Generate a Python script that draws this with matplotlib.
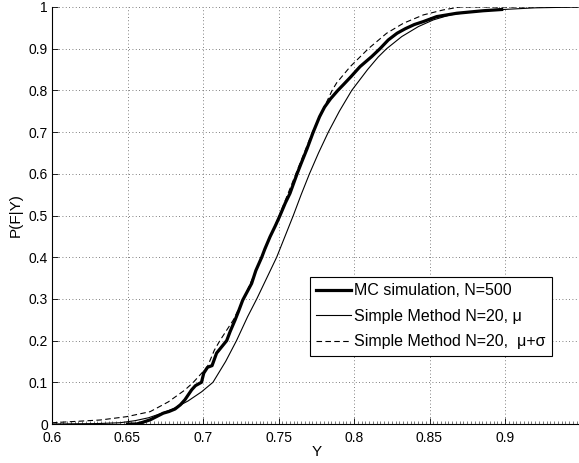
import matplotlib
matplotlib.use("Agg")
import matplotlib.pyplot as plt
from matplotlib.ticker import MultipleLocator

plt.rcParams["font.family"] = ["Liberation Sans", "DejaVu Sans"]

mc_y_val = [0.650, 0.656, 0.660, 0.665, 0.6737, 0.6775, 0.6815, 0.685, 0.688, 0.6925,
            0.695, 0.699, 0.7005, 0.703, 0.706, 0.709, 0.7157, 0.718, 0.7212, 0.7235,
            0.7263, 0.7285, 0.7322, 0.735, 0.7389, 0.741, 0.7444, 0.748, 0.751, 0.7545,
            0.7576, 0.7623, 0.765, 0.7689, 0.7730, 0.7772, 0.7805, 0.7845, 0.7893, 0.7933,
            0.7980, 0.804, 0.8117, 0.8172, 0.8227, 0.8285, 0.834, 0.840, 0.8459, 0.8548,
            0.868, 0.8855, 0.8978]
mc_p = [0.0, 0.0, 0.004, 0.010, 0.026, 0.030, 0.036, 0.046, 0.058, 0.082,
        0.092, 0.100, 0.122, 0.136, 0.140, 0.170, 0.200, 0.222, 0.249, 0.270,
        0.297, 0.312, 0.337, 0.368, 0.400, 0.420, 0.449, 0.476, 0.500, 0.530,
        0.553, 0.600, 0.625, 0.660, 0.700, 0.737, 0.760, 0.780, 0.800, 0.815,
        0.833, 0.857, 0.881, 0.900, 0.921, 0.937, 0.948, 0.958, 0.965, 0.977,
        0.985, 0.991, 0.994]

# Simple Method N=20, mu
mu_y_val = [0.600, 0.630, 0.645, 0.655, 0.664, 0.672, 0.680, 0.690, 0.699, 0.7066,
            0.715, 0.7222, 0.7295, 0.7356, 0.7488, 0.7598, 0.765, 0.7705, 0.7765, 0.783,
            0.7903, 0.7985, 0.809, 0.816, 0.8216, 0.8316, 0.8426, 0.8525, 0.8636, 0.879,
            0.8987, 0.920, 0.950]
mu_p = [0.0, 0.001, 0.003, 0.008, 0.015, 0.025, 0.036, 0.055, 0.077, 0.100,
        0.150, 0.200, 0.257, 0.300, 0.400, 0.500, 0.550, 0.600, 0.650, 0.700,
        0.750, 0.800, 0.850, 0.880, 0.900, 0.929, 0.953, 0.969, 0.981, 0.989,
        0.994, 0.998, 1.000]

# Simple Method N=20, mu+sigma
ms_y_val = [0.600, 0.632, 0.6495, 0.665, 0.677, 0.688, 0.6936, 0.7029, 0.7075, 0.7112,
            0.720, 0.7265, 0.739, 0.7505, 0.7615, 0.7725, 0.7855, 0.7885, 0.7975, 0.8095,
            0.8216, 0.8327, 0.8459, 0.8591, 0.870, 0.950]
ms_p = [0.003, 0.0096, 0.0176, 0.0296, 0.053, 0.0815, 0.100, 0.137, 0.177, 0.200,
        0.249, 0.297, 0.400, 0.500, 0.600, 0.700, 0.800, 0.818, 0.857, 0.900,
        0.937, 0.961, 0.981, 0.993, 1.000, 1.000]

x_ticks = [0.6, 0.65, 0.7, 0.75, 0.8, 0.85, 0.9]
x_tick_labels = ["0.6", "0.65", "0.7", "0.75", "0.8", "0.85", "0.9"]
y_ticks = [0, 0.1, 0.2, 0.3, 0.4, 0.5, 0.6, 0.7, 0.8, 0.9, 1]
y_tick_labels = ["0", "0.1", "0.2", "0.3", "0.4", "0.5", "0.6", "0.7", "0.8", "0.9", "1"]

fig = plt.figure(figsize=(5.79, 4.63), dpi=100)
ax = fig.add_axes([52 / 579, 39 / 463, 528.5 / 579, 417 / 463])

ax.plot(mc_y_val, mc_p, color="black", linewidth=2.3, label="MC simulation, N=500")
ax.plot(mu_y_val, mu_p, color="black", linewidth=0.8, label="Simple Method N=20, \u03bc")
ax.plot(ms_y_val, ms_p, color="black", linewidth=0.8, linestyle=(0, (5, 3)),
        label="Simple Method N=20,  \u03bc+\u03c3")

ax.set_xlim(0.6, 0.95)
ax.set_ylim(0, 1)
ax.set_xticks(x_ticks)
ax.set_xticklabels(x_tick_labels)
ax.set_yticks(y_ticks)
ax.set_yticklabels(y_tick_labels)
ax.xaxis.set_minor_locator(MultipleLocator(0.0025))

for side in ("top", "right"):
    ax.spines[side].set_visible(False)
for side in ("left", "bottom"):
    ax.spines[side].set_linewidth(0.8)

ax.tick_params(which="major", direction="in", length=4, width=0.6, labelsize=10)
ax.tick_params(axis="x", which="major", pad=5)
ax.tick_params(axis="y", which="major", pad=3)
ax.tick_params(axis="x", which="minor", direction="in", length=2, width=0.5, color="#444444")
ax.tick_params(axis="y", which="minor", left=False)

ax.grid(True, which="major", color="#555555", linestyle=(0, (1, 3)), linewidth=0.6)

ax.set_xlabel("Y", fontsize=11, labelpad=0)
ax.set_ylabel("P(F|Y)", fontsize=11, labelpad=4)

leg = ax.legend(loc="upper left", bbox_to_anchor=(0.488, 0.3525), borderaxespad=0,
                fontsize=11.5, frameon=True, fancybox=False, framealpha=1,
                edgecolor="black", handlelength=2.2, handletextpad=0.15,
                labelspacing=0.66, borderpad=0.4)
leg.get_frame().set_linewidth(0.8)

fig.savefig("out.png", dpi=100)
